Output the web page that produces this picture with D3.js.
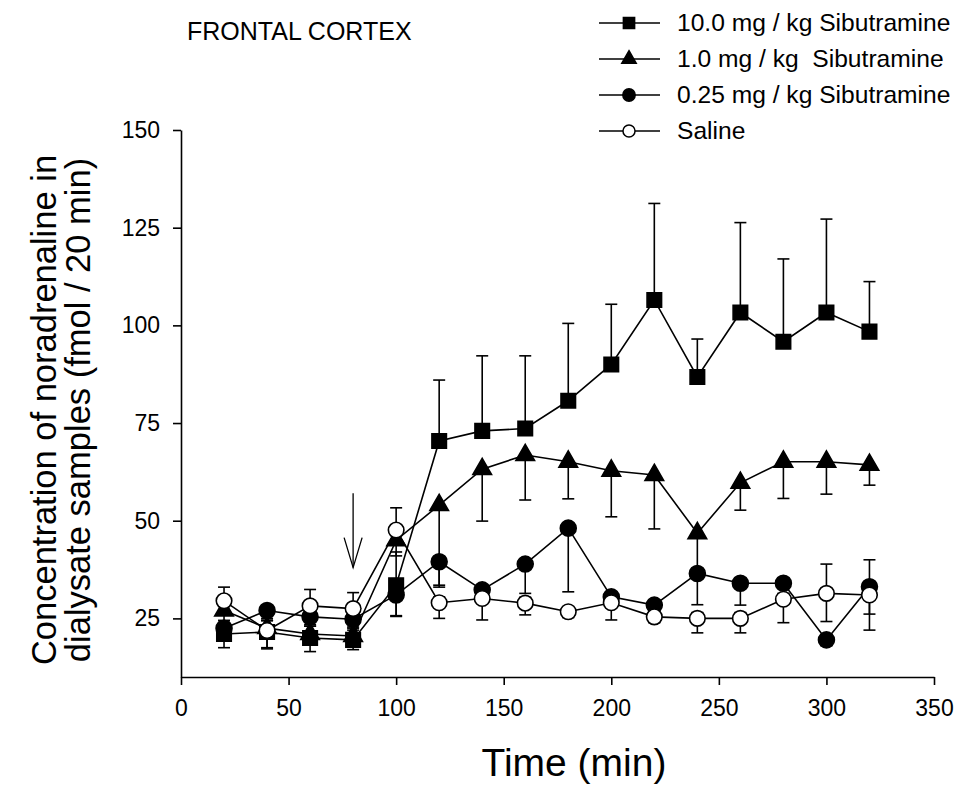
<!DOCTYPE html>
<html>
<head>
<meta charset="utf-8">
<script src="https://cdn.jsdelivr.net/npm/d3@7"></script>
<style>
  html, body { margin: 0; padding: 0; background: #fff; }
  svg { display: block; }
  text { font-family: "Liberation Sans", Arial, sans-serif; fill: #000; }
</style>
</head>
<body>
<svg id="chart" width="957" height="785"></svg>
<script>
// ---- data ----
const times = [20, 40, 60, 80, 100, 120, 140, 160, 180, 200, 220, 240, 260, 280, 300, 320];

const dose10 = [21.0, 21.5, 20.0, 19.5, 33.5, 70.4, 73.0, 73.6, 80.7, 90.0, 106.5, 86.8, 103.3, 95.8, 103.3, 98.4];
const dose10Up = [3.5, 3.0, 3.0, 2.5, 8.5, 15.6, 19.2, 18.6, 19.8, 15.4, 24.7, 9.7, 23.0, 21.2, 23.9, 12.8];
const dose10Down = [3.5, 4.0, 3.5, 2.5, 8.0, 0, 0, 0, 0, 0, 0, 0, 0, 0, 0, 0];

const dose1 = [27.0, 22.5, 21.0, 20.5, 45.0, 54.0, 63.2, 66.8, 65.1, 62.8, 61.7, 46.8, 59.7, 65.1, 65.1, 64.3];
const dose1Up = [2.0, 2.0, 2.0, 2.0, 3.0, 0, 0, 0, 0, 0, 0, 0, 0, 0, 0, 0];
const dose1Down = [3.0, 2.5, 2.5, 2.0, 4.0, 21.0, 13.3, 11.5, 9.5, 11.8, 13.8, 10.0, 7.0, 9.4, 8.3, 5.2];

const dose025 = [22.5, 27.0, 25.4, 24.8, 31.0, 39.5, 32.3, 38.9, 48.1, 30.5, 28.4, 36.5, 34.0, 34.0, 19.5, 33.1];
const dose025Up = [0, 0, 0, 0, 0, 0, 0, 0, 0, 0, 0, 0, 0, 0, 0, 0];
const dose025Down = [2.0, 2.0, 2.0, 2.0, 5.3, 6.0, 2.5, 7.5, 16.3, 2.0, 2.0, 8.0, 5.6, 3.0, 1.5, 7.0];

const saline = [29.5, 21.9, 28.2, 27.5, 47.6, 29.0, 30.1, 28.9, 26.7, 29.0, 25.4, 25.0, 25.0, 29.9, 31.4, 31.0];
const salineUp = [3.5, 2.5, 4.2, 4.1, 5.7, 1.5, 1.5, 1.5, 1.0, 1.5, 1.5, 1.5, 1.5, 1.5, 7.5, 9.0];
const salineDown = [3.0, 4.7, 2.0, 2.0, 3.0, 4.0, 5.5, 3.0, 1.5, 4.4, 1.5, 3.7, 3.7, 6.0, 7.2, 9.0];

const seriesNames = ["10.0 mg / kg Sibutramine", "1.0 mg / kg  Sibutramine", "0.25 mg / kg Sibutramine", "Saline"];
const xTicks = [0, 50, 100, 150, 200, 250, 300, 350];
const yTicks = [25, 50, 75, 100, 125, 150];
const injectionTime = 80;
const arrowFrom = 57, arrowTo = 38;

const title = "FRONTAL CORTEX";
const xTitle = "Time (min)";
const yTitle = ["Concentration of noradrenaline in", "dialysate samples (fmol / 20 min)"];

// ---- drawing ----
const svg = d3.select("#chart");
const x = d3.scaleLinear().domain([0, 350]).range([181, 934]);
const y = d3.scaleLinear().domain([10, 150]).range([677, 130]);

const series = [
  { name: seriesNames[0], mean: dose10, up: dose10Up, down: dose10Down, symbol: d3.symbolSquare, size: 210, fill: "#000" },
  { name: seriesNames[1], mean: dose1, up: dose1Up, down: dose1Down, symbol: d3.symbolTriangle, size: 150, fill: "#000" },
  { name: seriesNames[2], mean: dose025, up: dose025Up, down: dose025Down, symbol: d3.symbolCircle, size: 200, fill: "#000" },
  { name: seriesNames[3], mean: saline, up: salineUp, down: salineDown, symbol: d3.symbolCircle, size: 190, fill: "#fff" }
];

// axes
const xAxis = d3.axisBottom(x).tickValues(xTicks).tickSize(8).tickSizeOuter(0).tickPadding(15);
const yAxis = d3.axisLeft(y).tickValues(yTicks).tickSize(8).tickSizeOuter(0).tickPadding(13);

const gx = svg.append("g").attr("transform", `translate(0,${y(10)})`).call(xAxis);
const gy = svg.append("g").attr("transform", `translate(${x(0)},0)`).call(yAxis);
[gx, gy].forEach(g => {
  g.selectAll("path, line").attr("stroke", "#000").attr("stroke-width", 1.6);
  g.selectAll("text").style("font-size", "23px").attr("fill", "#000");
});

// series
const line = d3.line().x((d, i) => x(times[i])).y(d => y(d));
const cap = 6;

series.forEach(s => {
  const g = svg.append("g");
  g.append("path").datum(s.mean).attr("d", line)
    .attr("fill", "none").attr("stroke", "#000").attr("stroke-width", 1.6);
  // error bars
  s.mean.forEach((m, i) => {
    const cx = x(times[i]);
    [[s.up[i], 1], [s.down[i], -1]].forEach(([e, dir]) => {
      if (e <= 0) return;
      const yEnd = y(m + dir * e);
      g.append("line").attr("x1", cx).attr("x2", cx).attr("y1", y(m)).attr("y2", yEnd)
        .attr("stroke", "#000").attr("stroke-width", 1.6);
      g.append("line").attr("x1", cx - cap).attr("x2", cx + cap).attr("y1", yEnd).attr("y2", yEnd)
        .attr("stroke", "#000").attr("stroke-width", 1.6);
    });
  });
  const sym = d3.symbol().type(s.symbol).size(s.size);
  g.selectAll("path.m").data(s.mean).join("path").attr("class", "m")
    .attr("d", sym)
    .attr("transform", (d, i) => `translate(${x(times[i])},${y(d)})`)
    .attr("fill", s.fill).attr("stroke", "#000").attr("stroke-width", 1.6);
});

// injection arrow
const ax = x(injectionTime);
const ay1 = y(arrowFrom), ay2 = y(arrowTo);
svg.append("line").attr("x1", ax).attr("x2", ax).attr("y1", ay1).attr("y2", ay2)
  .attr("stroke", "#000").attr("stroke-width", 1.3);
svg.append("path")
  .attr("d", `M${ax - 9},${ay2 - 30} L${ax},${ay2} L${ax + 9},${ay2 - 30}`)
  .attr("fill", "none").attr("stroke", "#000").attr("stroke-width", 1.3);

// titles
svg.append("text").attr("x", 187).attr("y", 40).style("font-size", "25px").text(title);
svg.append("text").attr("x", 574).attr("y", 776).attr("text-anchor", "middle")
  .style("font-size", "39px").text(xTitle);
yTitle.forEach((t, i) => {
  svg.append("text")
    .attr("transform", `translate(${56 + i * 34},410) rotate(-90)`)
    .attr("text-anchor", "middle").style("font-size", "34.5px").text(t);
});

// legend
const legendRows = [23, 59, 95, 131];
series.forEach((s, i) => {
  const g = svg.append("g").attr("transform", `translate(0,${legendRows[i]})`);
  g.append("line").attr("x1", 599).attr("x2", 660).attr("y1", 0).attr("y2", 0)
    .attr("stroke", "#000").attr("stroke-width", 1.3);
  g.append("path").attr("d", d3.symbol().type(s.symbol).size(s.size * 0.6))
    .attr("transform", "translate(629,0)")
    .attr("fill", s.fill).attr("stroke", "#000").attr("stroke-width", 1.5);
  g.append("text").attr("x", 677).attr("y", 8).style("font-size", "24.6px")
    .style("white-space", "pre").attr("xml:space", "preserve").text(s.name);
});
</script>
</body>
</html>
